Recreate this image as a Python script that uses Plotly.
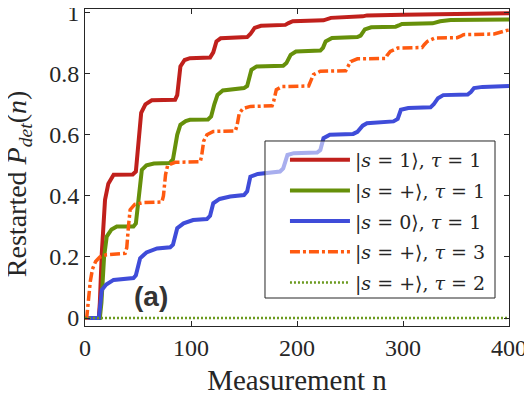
import plotly.graph_objects as go

red_n = [0, 13, 14, 15.8, 18.9, 22, 27, 45, 48, 50.4, 53, 57, 63, 85, 87, 90, 94, 99, 118, 121, 124, 128,
         153, 156, 160, 166, 189, 192, 196, 225, 228, 232, 262, 266, 300, 330, 360, 400]
red_p = [0, 0, 0.05, 0.21, 0.387, 0.44, 0.469, 0.47, 0.48, 0.56, 0.672, 0.70, 0.713, 0.715, 0.73, 0.824, 0.845,
         0.851, 0.853, 0.87, 0.906, 0.916, 0.92, 0.93, 0.95, 0.957, 0.96, 0.966, 0.972, 0.975, 0.978, 0.983,
         0.988, 0.991, 0.993, 0.995, 0.997, 0.998]

green_n = [0, 14, 15.5, 18, 20.5, 25, 30, 45.7, 48, 50.5, 53.6, 58, 65, 80, 83, 87, 90, 95, 99, 116, 119, 122,
           125, 130, 150, 153, 157, 162, 187, 190, 194, 199, 222, 224.5, 227, 233, 257, 260, 264, 270, 293, 296,
           299, 328, 331, 335, 345, 400]
green_p = [0, 0, 0.05, 0.2, 0.267, 0.29, 0.30, 0.30, 0.31, 0.38, 0.485, 0.50, 0.506, 0.508, 0.52, 0.60, 0.633,
           0.645, 0.649, 0.65, 0.66, 0.70, 0.731, 0.745, 0.753, 0.76, 0.813, 0.824, 0.826, 0.835, 0.862, 0.873,
           0.876, 0.885, 0.906, 0.917, 0.92, 0.925, 0.945, 0.952, 0.954, 0.958, 0.963, 0.965, 0.968, 0.972,
           0.976, 0.978]

blue_n = [0, 13, 14, 15.8, 20, 27, 45.7, 48, 52, 58, 68, 80.4, 83, 87, 93, 102, 115, 118, 121, 127, 137, 150,
          153, 156, 163, 172, 184, 187, 191, 197, 219, 222, 225, 231, 253, 257, 262, 266, 291, 295, 298, 305,
          326, 329, 333, 338, 361, 364, 367, 375, 400]
blue_p = [0, 0, 0.03, 0.092, 0.11, 0.125, 0.131, 0.14, 0.196, 0.215, 0.228, 0.232, 0.24, 0.294, 0.31, 0.321,
          0.324, 0.335, 0.376, 0.39, 0.398, 0.403, 0.415, 0.463, 0.472, 0.476, 0.48, 0.49, 0.534, 0.54, 0.542,
          0.55, 0.589, 0.6, 0.603, 0.61, 0.63, 0.638, 0.644, 0.652, 0.682, 0.688, 0.69, 0.7, 0.72, 0.73, 0.732,
          0.74, 0.753, 0.757, 0.76]

orange_n = [0, 1.6, 3, 5, 7, 10, 14, 20, 37.8, 39.4, 41, 42.6, 47, 55, 72.5, 74, 76, 78, 85, 108.7, 110, 112,
            115, 121, 141.8, 143.4, 145.5, 149, 156, 176.5, 178, 180.5, 186, 211, 212.8, 215.5, 222, 246, 247.5,
            250.6, 257, 283.7, 285, 288, 295, 318, 320, 323, 330, 351, 354, 357, 386, 390, 398, 400]
orange_p = [0, 0, 0.05, 0.12, 0.16, 0.185, 0.2, 0.207, 0.212, 0.23, 0.30, 0.355, 0.372, 0.378, 0.38, 0.40,
            0.47, 0.50, 0.51, 0.512, 0.53, 0.58, 0.60, 0.611, 0.613, 0.63, 0.67, 0.686, 0.693, 0.695, 0.71,
            0.748, 0.758, 0.76, 0.775, 0.797, 0.808, 0.81, 0.82, 0.84, 0.849, 0.85, 0.86, 0.873, 0.884, 0.886,
            0.895, 0.906, 0.917, 0.918, 0.922, 0.928, 0.93, 0.935, 0.942, 0.943]

dotted_n = [0, 400]
dotted_p = [0, 0]

labels = [
    "|<i>s</i> = 1⟩, <i>τ</i> = 1",
    "|<i>s</i> = +⟩, <i>τ</i> = 1",
    "|<i>s</i> = 0⟩, <i>τ</i> = 1",
    "|<i>s</i> = +⟩, <i>τ</i> = 3",
    "|<i>s</i> = +⟩, <i>τ</i> = 2",
]

SERIF = "Liberation Serif"
INK = "#262626"

fig = go.Figure()
fig.add_trace(go.Scatter(x=red_n, y=red_p, mode="lines", name=labels[0], legendgroup="a",
                         line=dict(color="#C0201C", width=4)))
fig.add_trace(go.Scatter(x=green_n, y=green_p, mode="lines", name=labels[1], legendgroup="b",
                         line=dict(color="#66900A", width=4)))
fig.add_trace(go.Scatter(x=blue_n, y=blue_p, mode="lines", name=labels[2], legendgroup="c",
                         line=dict(color="#3F4CD9", width=4)))
fig.add_trace(go.Scatter(x=orange_n, y=orange_p, mode="lines", name=labels[3], legendgroup="d",
                         line=dict(color="#FF5A10", width=3.5, dash="10px,3px,3px,3px")))
fig.add_trace(go.Scatter(x=dotted_n, y=dotted_p, mode="lines", name=labels[4], legendgroup="e",
                         line=dict(color="#6B9A1F", width=2.5, dash="2px,2px")))

fig.add_annotation(x=62, y=0.07, text="<b>(a)</b>", showarrow=False,
                   font=dict(family="Liberation Sans", size=28, color="#333333"))

# y title as a rotated annotation so it can be placed exactly
fig.add_annotation(xref="paper", yref="paper", x=-0.158, y=0.4475, xanchor="center", yanchor="middle",
                   textangle=-90, showarrow=False,
                   text="Restarted <i>P</i><sub><i>det</i></sub>(<i>n</i>)",
                   font=dict(family=SERIF, size=28, color=INK))

# legend frame with a half-transparent fill
fig.add_shape(type="rect", xref="paper", yref="paper", x0=0.4245, x1=0.967, y0=0.0883, y1=0.5836,
              line=dict(color=INK, width=1), fillcolor="rgba(255,255,255,0.55)", layer="above")

axis_common = dict(
    showline=True, linecolor=INK, linewidth=1, mirror="ticks",
    ticks="inside", ticklen=5, tickcolor=INK, showgrid=False, zeroline=False,
    automargin=False, ticklabeloverflow="allow",
    tickfont=dict(family=SERIF, size=24, color=INK),
)

fig.update_xaxes(range=[0, 400], tickvals=[0, 100, 200, 300, 400],
                 title=dict(text="Measurement n", font=dict(family=SERIF, size=29, color=INK), standoff=9),
                 **axis_common)
fig.update_yaxes(range=[-0.026, 1.012], tickvals=[0, 0.2, 0.4, 0.6, 0.8, 1],
                 ticktext=["0", "0.2", "0.4", "0.6", "0.8", "1"],
                 **axis_common)

# the page body adds an 8px margin, so the figure is drawn 8px smaller and shifted
fig.update_layout(
    width=524, height=391,
    margin=dict(l=77, r=23, t=1, b=73),
    plot_bgcolor="white", paper_bgcolor="white",
    legend=dict(x=0.4716, y=0.584, xanchor="left", yanchor="top",
                bgcolor="rgba(0,0,0,0)", borderwidth=0,
                font=dict(family="DejaVu Serif", size=19, color=INK),
                itemwidth=60, tracegroupgap=3),
    showlegend=True,
)

fig.write_html("out.html")
